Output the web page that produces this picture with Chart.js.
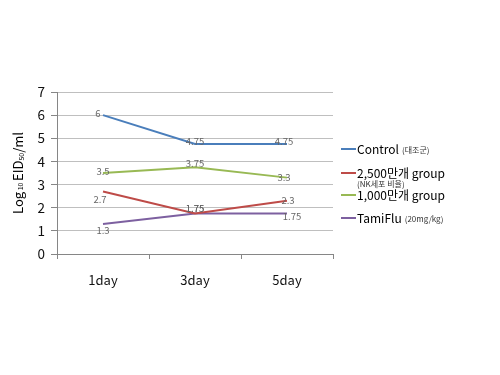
<!DOCTYPE html>
<html>
<head>
<meta charset="utf-8">
<script src="https://cdn.jsdelivr.net/npm/chart.js@4/dist/chart.umd.min.js"></script>
<style>
  html, body { margin: 0; padding: 0; background: #fff; }
  #wrap { width: 500px; height: 375px; }
</style>
</head>
<body>
<div id="wrap"><canvas id="chart"></canvas></div>
<script>
const days = ['1day', '3day', '5day'];
const seriesNames = ['Control', '2,500만개 group', '1,000만개 group', 'TamiFlu'];
const seriesNotes = ['(대조군)', '(NK세포 비율)', '', '(20mg/kg)'];
const control = [6, 4.75, 4.75];
const group2500 = [2.7, 1.75, 2.3];
const group1000 = [3.5, 3.75, 3.3];
const tamiflu = [1.3, 1.75, 1.75];
const yTicks = [0, 1, 2, 3, 4, 5, 6, 7];

const colors = ['#4a7ebb', '#be4b48', '#98b954', '#7d60a0'];
// small nudges for the value labels, [dx, dy] per point
const labelNudge = [
  [[-5, -2], [0, -3], [-3, -3]],
  [[-3, 8], [0, -5], [1, 0]],
  [[0, -2], [0, -4], [-3, 0]],
  [[0, 6], [0, -5], [5, 3]]
];

const fontKo = '"Noto Sans CJK KR", "Noto Sans", sans-serif';

const valueLabels = {
  id: 'valueLabels',
  afterDatasetsDraw(chart) {
    const ctx = chart.ctx;
    ctx.save();
    ctx.font = '9.5px ' + fontKo;
    ctx.fillStyle = '#666';
    ctx.textAlign = 'center';
    ctx.textBaseline = 'middle';
    chart.data.datasets.forEach((ds, i) => {
      chart.getDatasetMeta(i).data.forEach((pt, j) => {
        const n = labelNudge[i][j];
        ctx.fillText(String(ds.data[j]), pt.x + n[0], pt.y + n[1]);
      });
    });
    ctx.restore();
  }
};

const sideLegend = {
  id: 'sideLegend',
  afterDraw(chart) {
    const ctx = chart.ctx;
    const rows = [149, 173, 195, 218];
    ctx.save();
    ctx.textBaseline = 'middle';
    chart.data.datasets.forEach((ds, i) => {
      const y = rows[i];
      ctx.strokeStyle = ds.borderColor;
      ctx.lineWidth = 2;
      ctx.beginPath();
      ctx.moveTo(341, y);
      ctx.lineTo(356, y);
      ctx.stroke();
      ctx.fillStyle = '#000';
      ctx.font = '12px ' + fontKo;
      ctx.fillText(ds.label, 357, y);
      const w = ctx.measureText(ds.label).width;
      const note = seriesNotes[i];
      if (!note) return;
      ctx.font = '8px ' + fontKo;
      ctx.fillStyle = '#333';
      if (i === 1) {
        ctx.fillText(note, 357, y + 11);
      } else {
        ctx.fillText(note, 357 + w + 3, y + 1);
      }
    });
    ctx.restore();
  }
};

const yTitle = {
  id: 'yTitle',
  afterDraw(chart) {
    const ctx = chart.ctx;
    const a = chart.chartArea;
    const parts = [['Log', 13, 0], [' 10 ', 7, 2], ['EID', 13, 0], ['50', 7, 3], ['/ml', 13, 0]];
    ctx.save();
    ctx.translate(18, (a.top + a.bottom) / 2);
    ctx.rotate(-Math.PI / 2);
    ctx.fillStyle = '#000';
    ctx.textBaseline = 'middle';
    let total = 0;
    parts.forEach(p => { ctx.font = p[1] + 'px ' + fontKo; total += ctx.measureText(p[0]).width; });
    let x = -total / 2;
    parts.forEach(p => {
      ctx.font = p[1] + 'px ' + fontKo;
      ctx.fillText(p[0], x, p[2]);
      x += ctx.measureText(p[0]).width;
    });
    ctx.restore();
  }
};

const allSeries = [control, group2500, group1000, tamiflu];

new Chart(document.getElementById('chart'), {
  type: 'line',
  data: {
    labels: days,
    datasets: allSeries.map((vals, i) => ({
      label: seriesNames[i],
      data: vals,
      borderColor: colors[i],
      backgroundColor: colors[i],
      borderWidth: 2,
      pointRadius: 0,
      tension: 0
    }))
  },
  options: {
    responsive: true,
    maintainAspectRatio: false,
    animation: false,
    layout: { padding: { top: 92, right: 167, bottom: 0, left: 0 } },
    plugins: { legend: { display: false }, tooltip: { enabled: false } },
    scales: {
      x: {
        offset: true,
        afterFit(s) { s.height = 121; },
        grid: { drawOnChartArea: false, offset: true, tickLength: 5, color: '#868686' },
        border: { color: '#868686' },
        ticks: { padding: 13, color: '#111', font: { size: 13, family: fontKo } }
      },
      y: {
        min: 0,
        max: 7,
        afterFit(s) { s.width = 57; },
        afterBuildTicks(s) { s.ticks = yTicks.map(v => ({ value: v })); },
        grid: { color: '#bfbfbf', tickLength: 6, tickColor: '#868686' },
        border: { color: '#868686' },
        ticks: { padding: 6, color: '#111', font: { size: 13.5, family: fontKo } }
      }
    }
  },
  plugins: [valueLabels, sideLegend, yTitle]
});
</script>
</body>
</html>
